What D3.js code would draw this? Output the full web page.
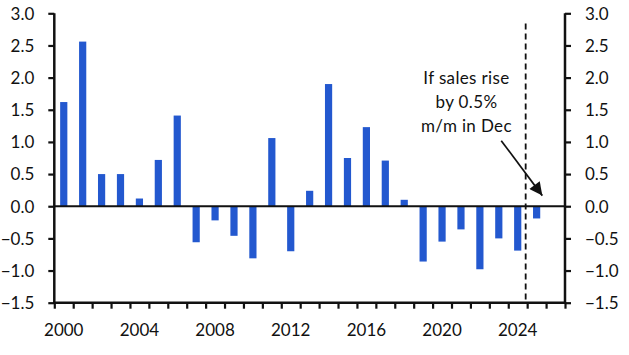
<!DOCTYPE html>
<html><head><meta charset="utf-8">
<script src="https://cdn.jsdelivr.net/npm/d3@7"></script>
<style>
html,body{margin:0;padding:0;background:#fff;}
svg{display:block;font-family:Lato,"Open Sans",sans-serif;}
</style></head>
<body>
<svg id="chart" width="629" height="355"></svg>
<script>
const years = d3.range(2000, 2027);
const barYears = [2000,2001,2002,2003,2004,2005,2006,2007,2008,2009,2010,2011,2012,2013,2014,2015,2016,2017,2018,2019,2020,2021,2022,2023,2024,2025];
const values = [1.62,2.56,0.50,0.50,0.12,0.72,1.41,-0.56,-0.22,-0.46,-0.81,1.06,-0.70,0.24,1.90,0.75,1.23,0.71,0.10,-0.86,-0.55,-0.36,-0.98,-0.50,-0.69,-0.19];
const yTicks = [-1.5,-1.0,-0.5,0.0,0.5,1.0,1.5,2.0,2.5,3.0];
const xLabelYears = [2000,2004,2008,2012,2016,2020,2024];
const annotationLines = ["If sales rise","by 0.5%","m/m in Dec"];
const forecastYear = 2025;

const svg = d3.select("#chart");
const L = 54.3, R = 565, T = 13.3, B = 302.7;
const x = d3.scaleBand().domain(years).range([L, R]).padding(0);
const xLin = d3.scaleLinear().domain([2000, 2027]).range([L, R]);
const y = d3.scaleLinear().domain([-1.5, 3.0]).range([B, T]);
const bw = x.bandwidth();
const ink = "#111";
const fs = 17;

// bars
svg.append("g").selectAll("rect").data(barYears.map((yr,i)=>({yr, v: values[i]})))
  .join("rect")
  .attr("x", d => x(d.yr) + bw*0.5 - 3.6)
  .attr("width", 7.2)
  .attr("y", d => y(Math.max(0, d.v)))
  .attr("height", d => Math.abs(y(d.v) - y(0)))
  .attr("fill", "#2358CF");

// zero line
svg.append("line").attr("x1", L).attr("x2", R).attr("y1", y(0)).attr("y2", y(0))
  .attr("stroke", ink).attr("stroke-width", 2.2);

// y axes
const yAxisL = d3.axisLeft(y).tickValues(yTicks).tickFormat(d3.format(".1f")).tickSize(6).tickPadding(14);
const gL = svg.append("g").attr("transform", `translate(${L},0)`).call(yAxisL);
const yAxisR = d3.axisRight(y).tickValues(yTicks).tickFormat(d3.format(".1f")).tickSize(6).tickPadding(14);
const gR = svg.append("g").attr("transform", `translate(${R},0)`).call(yAxisR);

// bottom axis: ticks at band boundaries
const xAxis = d3.axisBottom(xLin).tickValues(d3.range(2000, 2028)).tickFormat("").tickSize(6);
const gB = svg.append("g").attr("transform", `translate(0,${B})`).call(xAxis);
svg.append("g").selectAll("text").data(xLabelYears).join("text")
  .attr("x", d => x(d) + bw/2).attr("y", B + 33.3)
  .attr("text-anchor", "middle").attr("font-size", fs).attr("fill", ink)
  .text(d => d);

[gL, gR, gB].forEach(g => {
  g.select(".domain").attr("stroke", ink).attr("stroke-width", 2.5);
  g.selectAll(".tick line").attr("stroke", ink).attr("stroke-width", 2.2);
  g.selectAll(".tick text").attr("font-size", fs).attr("fill", ink).attr("font-family", "Lato,'Open Sans',sans-serif");
});
gL.selectAll(".tick text").attr("dy", "0.34em");
gR.selectAll(".tick text").attr("dy", "0.34em");
gL.select(".domain").attr("d", `M0,${B+1}V${T}`);
gR.select(".domain").attr("d", `M0,${B+1}V${T}`);
gB.select(".domain").attr("d", `M${L-1},0H${R+1}`);

// dashed forecast line
svg.append("line").attr("x1", xLin(forecastYear)-1.5).attr("x2", xLin(forecastYear)-1.5)
  .attr("y1", y(2.84)).attr("y2", B)
  .attr("stroke", ink).attr("stroke-width", 1.8).attr("stroke-dasharray", "6,4");

// annotation text
const txt = svg.append("text").attr("text-anchor", "middle").attr("font-size", 17)
  .attr("letter-spacing", 0.35).attr("fill", ink);
annotationLines.forEach((t, i) => {
  txt.append("tspan").attr("x", xLin(2021.79)).attr("y", 84 + i*24).text(t);
});

// arrow
svg.append("defs").append("marker").attr("id", "ah")
  .attr("viewBox", "0 0 10 10").attr("refX", 10).attr("refY", 5)
  .attr("markerWidth", 15).attr("markerHeight", 13).attr("markerUnits", "userSpaceOnUse")
  .attr("orient", "auto")
  .append("path").attr("d", "M0,0L10,5L0,10z").attr("fill", ink);
svg.append("line")
  .attr("x1", xLin(2023.63)).attr("y1", y(1.02))
  .attr("x2", xLin(2025.80)).attr("y2", y(0.165))
  .attr("stroke", ink).attr("stroke-width", 1.7).attr("marker-end", "url(#ah)");
</script>
</body></html>
